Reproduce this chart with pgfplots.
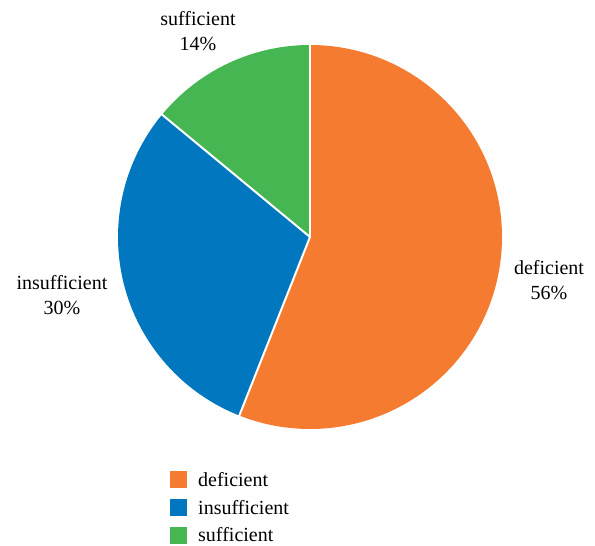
\documentclass[border=0pt]{standalone}
\usepackage{pgfplots}
\pgfplotsset{compat=1.18}
\usepackage{fontspec}
\setmainfont{Liberation Serif}
\definecolor{cDef}{HTML}{F47B30}
\definecolor{cIns}{HTML}{0077BF}
\definecolor{cSuf}{HTML}{46B653}
% shares in percent
\def\pDef{56}
\def\pIns{30}
\def\pSuf{14}
\begin{document}
\begin{tikzpicture}
\begin{axis}[
  scale only axis, width=595pt, height=546pt,
  xmin=0, xmax=595, ymin=0, ymax=546, y dir=reverse,
  hide axis, clip=false,
]
\path (axis cs:0,0) (axis cs:595,546);
\pgfmathsetmacro{\aA}{90}
\pgfmathsetmacro{\aB}{90-3.6*\pDef}
\pgfmathsetmacro{\aC}{\aB-3.6*\pIns}
\pgfmathsetmacro{\aD}{\aC-3.6*\pSuf}
\fill[cDef] (axis cs:310,237) -- ++(\aA:192pt) arc[start angle=\aA, end angle=\aB, radius=192pt] -- cycle;
\fill[cIns] (axis cs:310,237) -- ++(\aB:192pt) arc[start angle=\aB, end angle=\aC, radius=192pt] -- cycle;
\fill[cSuf] (axis cs:310,237) -- ++(\aC:192pt) arc[start angle=\aC, end angle=\aD, radius=192pt] -- cycle;
\draw[white, line width=2pt] (axis cs:310,237) -- ++(\aA:193pt);
\draw[white, line width=2pt] (axis cs:310,237) -- ++(\aB:193pt);
\draw[white, line width=2pt] (axis cs:310,237) -- ++(\aC:193pt);
% legend
\fill[cDef] (axis cs:170,471) rectangle (axis cs:187,488);
\fill[cIns] (axis cs:170,499) rectangle (axis cs:187,516);
\fill[cSuf] (axis cs:170,527) rectangle (axis cs:187,544);
\node[anchor=base west, inner sep=0pt, font=\fontsize{20}{24}\selectfont] at (axis cs:198,486) {deficient};
\node[anchor=base west, inner sep=0pt, font=\fontsize{20}{24}\selectfont] at (axis cs:198,514) {insufficient};
\node[anchor=base west, inner sep=0pt, font=\fontsize{20}{24}\selectfont] at (axis cs:198,541) {sufficient};
% labels
\node[align=center, inner sep=0pt, font=\fontsize{20}{25}\selectfont] at (axis cs:198,31) {sufficient\\\pSuf\%};
\node[align=center, inner sep=0pt, font=\fontsize{20}{25}\selectfont] at (axis cs:62,295) {insufficient\\\pIns\%};
\node[align=center, inner sep=0pt, font=\fontsize{20}{25}\selectfont] at (axis cs:549,280) {deficient\\\pDef\%};
\end{axis}
\end{tikzpicture}
\end{document}
